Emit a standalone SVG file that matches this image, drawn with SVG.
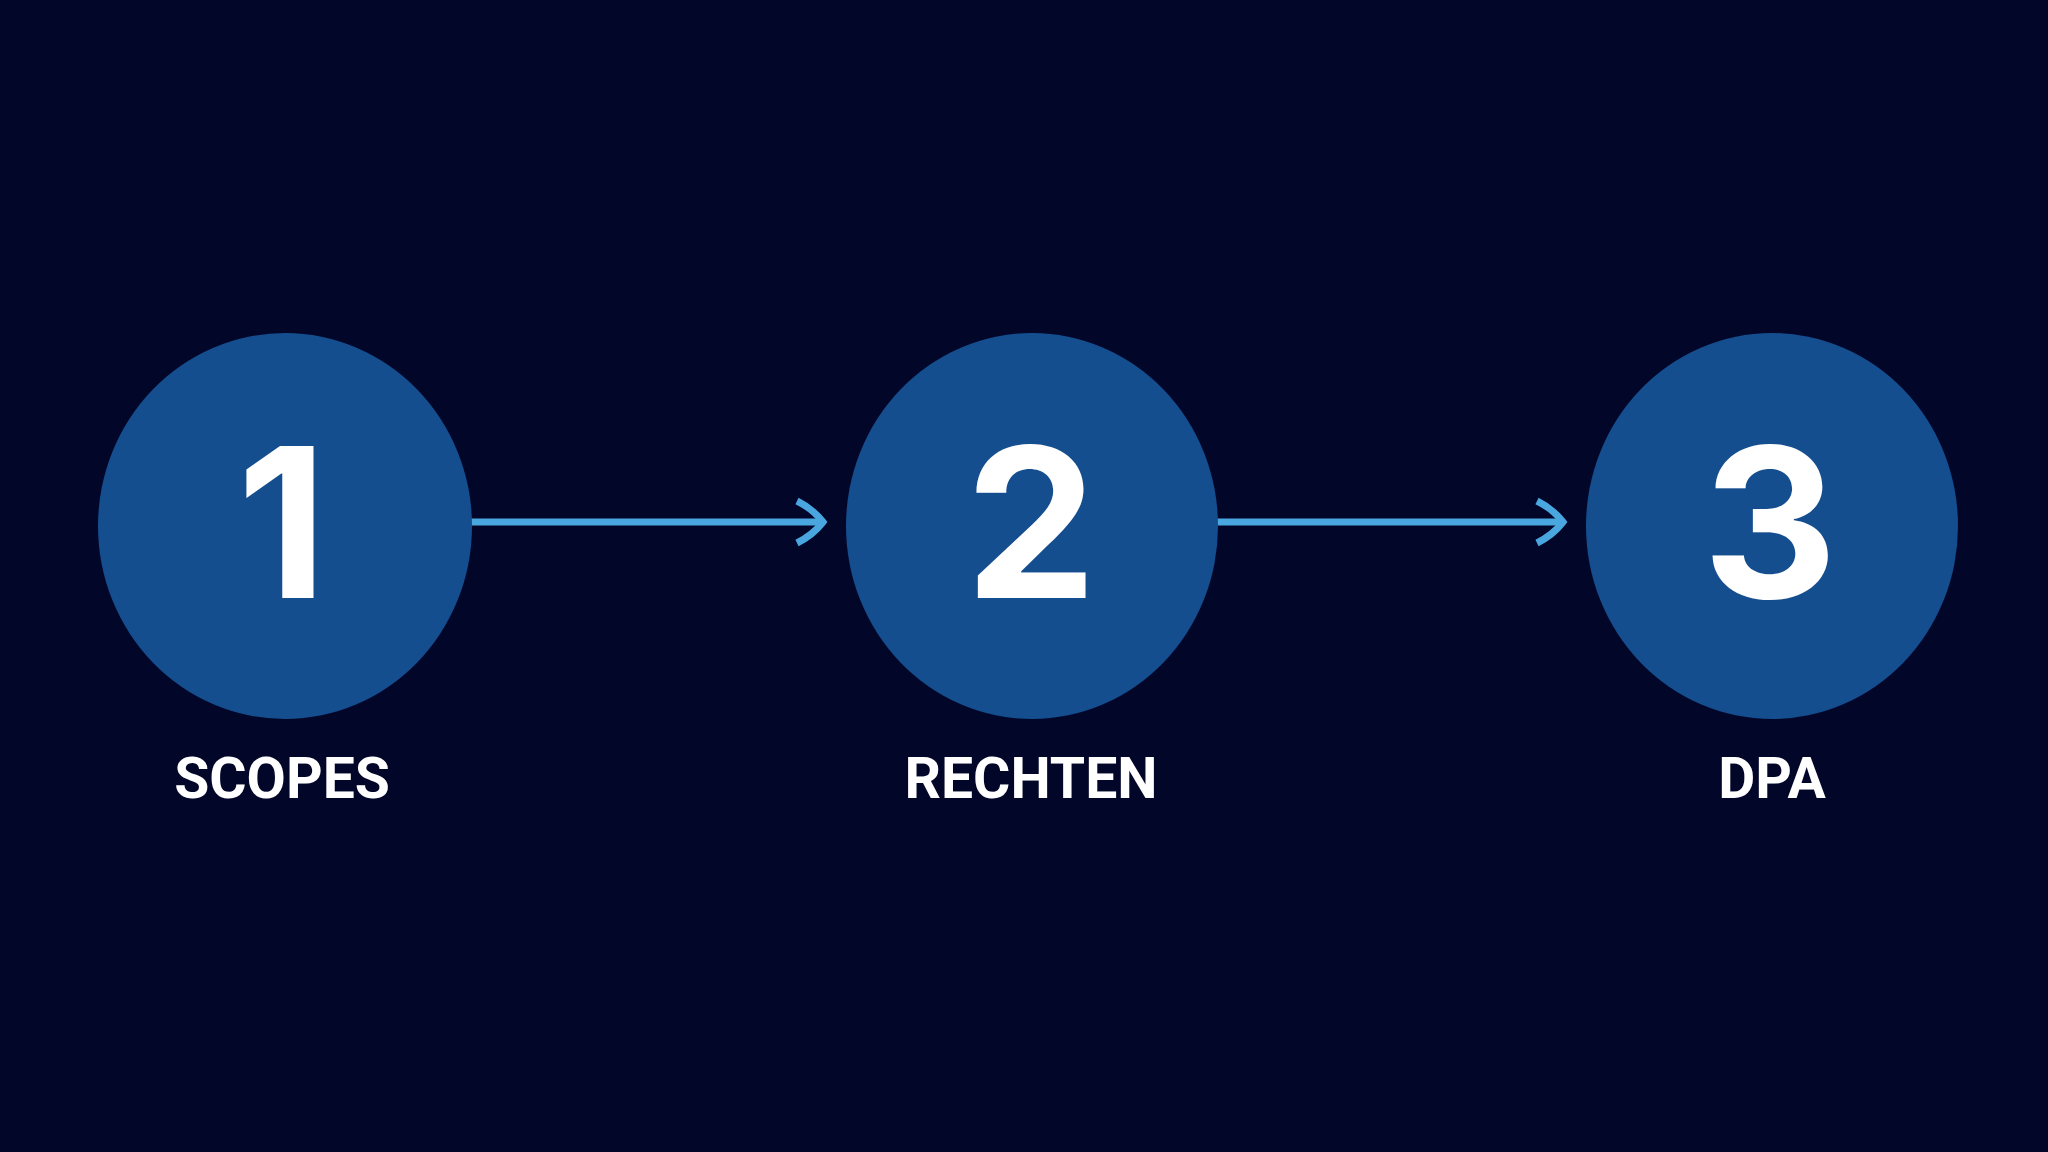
<svg xmlns="http://www.w3.org/2000/svg" width="2048" height="1152" viewBox="0 0 2048 1152">
  <defs>
    <style>
      .node-circle { fill: #154e8f; }
      .num { font-family: Inter, Roboto, "Liberation Sans", sans-serif; font-weight: 700; font-size: 209px; fill: #ffffff; text-anchor: middle; }
      .label { font-family: Roboto, "Liberation Sans", sans-serif; font-weight: 700; font-size: 57px; fill: #ffffff; text-anchor: middle; }
      .conn { stroke: #4aa6df; stroke-width: 7; fill: none; }
      .head { stroke: #4aa6df; stroke-width: 7; fill: none; stroke-linecap: butt; stroke-linejoin: miter; }
    </style>
  </defs>
  <rect x="0" y="0" width="2048" height="1152" fill="#02072a"/>
  <g id="connectors">
    <line class="conn" x1="470" y1="522" x2="820" y2="522"/>
    <path class="head" d="M797 501 Q813 509 823 522 Q813 535 797 543"/>
    <line class="conn" x1="1217" y1="522" x2="1560" y2="522"/>
    <path class="head" d="M1537 501 Q1553 509 1563 522 Q1553 535 1537 543"/>
  </g>
  <g id="node-1">
    <ellipse class="node-circle" cx="285" cy="526" rx="187" ry="193"/>
    <text class="num" x="282" y="598">1</text>
    <text class="label" x="282" y="798">SCOPES</text>
  </g>
  <g id="node-2">
    <ellipse class="node-circle" cx="1032" cy="526" rx="186" ry="193"/>
    <text class="num" x="1031" y="598">2</text>
    <text class="label" x="1031" y="798">RECHTEN</text>
  </g>
  <g id="node-3">
    <ellipse class="node-circle" cx="1772" cy="526" rx="186" ry="193"/>
    <text class="num" x="1770" y="598">3</text>
    <text class="label" x="1772" y="798">DPA</text>
  </g>
</svg>
